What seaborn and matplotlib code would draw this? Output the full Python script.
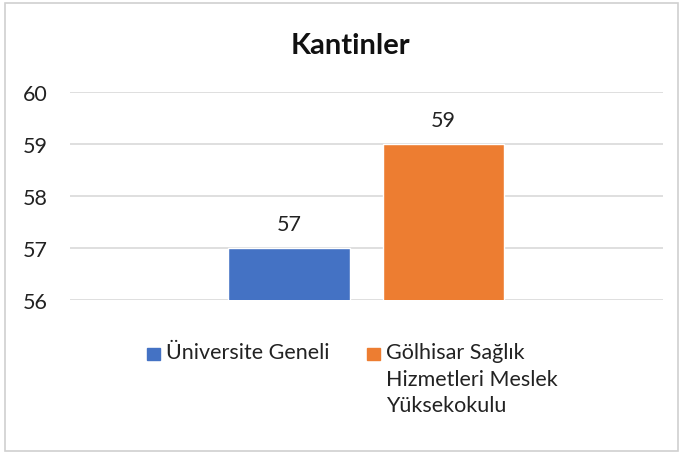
import matplotlib
matplotlib.use("Agg")
import matplotlib.pyplot as plt
import matplotlib.patches as mpatches
import seaborn as sns
import pandas as pd

# chart data
category = ["Kantinler"]
series = ["Üniversite Geneli", "Gölhisar Sağlık\nHizmetleri Meslek\nYüksekokulu"]
values = [57, 59]
colors = ["#4472C4", "#ED7D31"]
yticks = [56, 57, 58, 59, 60]

df = pd.DataFrame({"cat": category * len(series), "series": series, "value": values})

sns.set_style("white")
plt.rcParams["font.family"] = ["Lato", "DejaVu Sans"]

W, H = 683, 456
fig = plt.figure(figsize=(W / 100, H / 100), dpi=100)
ax = fig.add_axes([0.1025, 0.34, 0.868, 0.456])

sns.barplot(data=df, x="cat", y="value", hue="series", palette=colors,
            width=0.52, gap=0.21, ax=ax, saturation=1, legend=False)

ax.set_ylim(56, 60)
ax.set_xlim(-0.5, 0.5)
ax.set_yticks(yticks)
ax.set_yticklabels([str(t) for t in yticks], fontsize=15.5, color="#222222")
ax.tick_params(axis="y", length=0, pad=16)
ax.set_xticks([])
ax.set_xlabel("")
ax.set_ylabel("")
ax.grid(axis="y", color="#d9d9d9", linewidth=1.2)
ax.set_axisbelow(True)
for s in ax.spines.values():
    s.set_visible(False)

for cont in ax.containers:
    ax.bar_label(cont, fontsize=15.5, padding=10, color="#222222")

fig.text(0.513, 0.9, "Kantinler", ha="center", va="center",
         fontsize=21, fontweight="bold", color="#111111")

# legend below the plot, top-aligned like the original
leg_x = [147, 367]
for x0, lab, col in zip(leg_x, series, colors):
    fig.patches.append(mpatches.Rectangle((x0 / W, 1 - 361 / H), 13 / W, 12 / H,
                                          transform=fig.transFigure, color=col))
    fig.text((x0 + 19) / W, 1 - 343 / H, lab, ha="left", va="top",
             fontsize=15.5, color="#222222", linespacing=1.42)

fig.patches.append(mpatches.Rectangle((0.008, 0.008), 0.984, 0.984,
                                      transform=fig.transFigure, fill=False,
                                      edgecolor="#d0d0d0", linewidth=1.2))

fig.savefig("out.png", dpi=100)
